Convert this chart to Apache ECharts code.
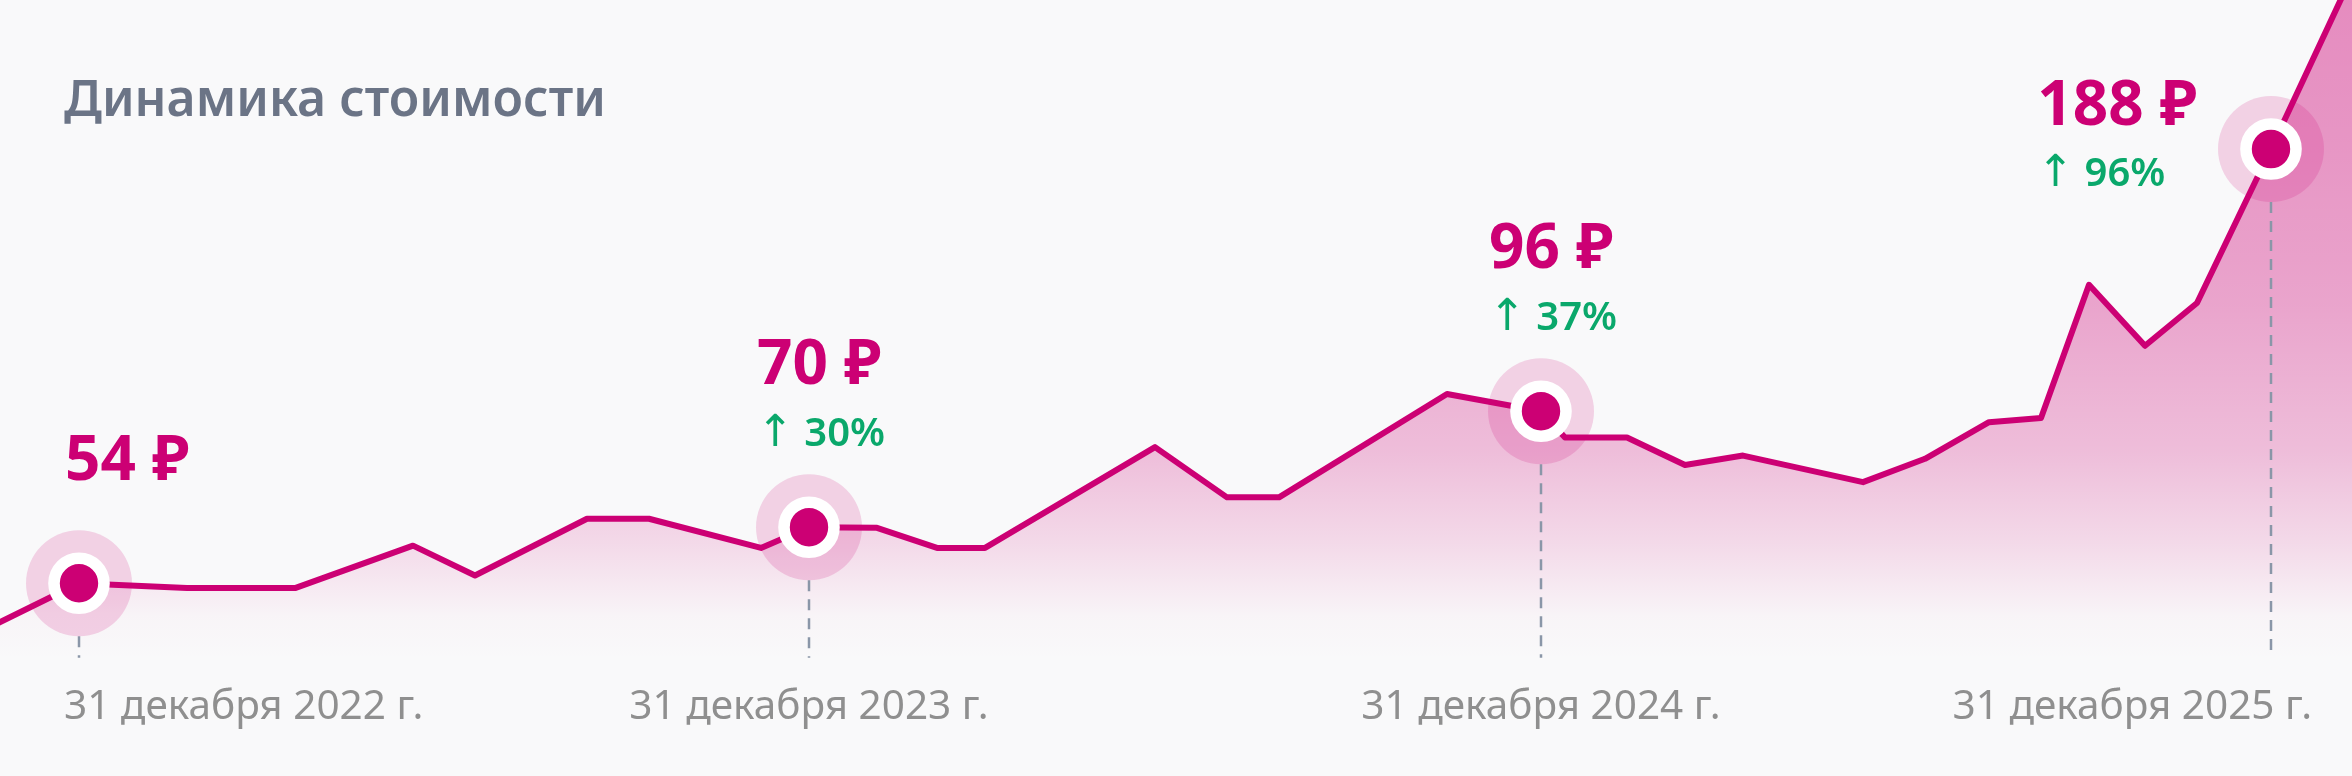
<!DOCTYPE html>
<html>
<head>
<meta charset="utf-8">
<script src="https://cdn.jsdelivr.net/npm/echarts@6/dist/echarts.min.js"></script>
<style>
  html, body { margin: 0; padding: 0; background: #f9f9fa; }
  #chart { width: 2352px; height: 776px; }
</style>
</head>
<body>
<div id="chart"></div>
<script>
// данные линии (значения в единицах шкалы графика)
const lineDates = [
  '2022-11-15', '2022-12-31', '2023-02-23', '2023-04-18', '2023-06-16', '2023-07-17',
  '2023-09-11', '2023-10-12', '2023-12-07', '2023-12-31', '2024-02-03', '2024-03-04',
  '2024-03-28', '2024-06-21', '2024-07-27', '2024-08-22', '2024-11-14', '2024-12-31',
  '2025-01-12', '2025-02-12', '2025-03-13', '2025-04-11', '2025-06-10', '2025-07-11',
  '2025-08-12', '2025-09-07', '2025-10-01', '2025-10-29', '2025-11-24', '2025-12-31',
  '2026-02-23'
];
const lineValues = [
  40.0, 54.0, 52.5, 52.5, 65.6, 56.4,
  73.9, 73.9, 64.9, 71.3, 71.1, 64.9,
  64.9, 96.0, 80.5, 80.5, 112.4, 107.1,
  99.0, 99.0, 90.5, 93.4, 85.2, 92.4,
  103.7, 105.0, 146.1, 127.3, 140.5, 188.0,
  259.4
];

// отмеченные точки
const markerDates = ['2022-12-31', '2023-12-31', '2024-12-31', '2025-12-31'];
const markerPrice = [54, 70, 96, 188];
const markerGrowth = [null, 30, 37, 96];
const tickLabels = ['31 декабря 2022 г.', '31 декабря 2023 г.', '31 декабря 2024 г.', '31 декабря 2025 г.'];

const MAGENTA = '#cc0074';
const GREEN = '#0aa86b';
const FONT = '"Noto Sans", "Open Sans", sans-serif';
const W = 2352;
const TICK_FONT = 40.5;

const ts = s => {
  const [y, m, d] = s.split('-').map(Number);
  return Date.UTC(y, m - 1, d);
};

const X_MIN = Date.UTC(2022, 10, 21, 12);
const X_MAX = Date.UTC(2026, 1, 9, 12);
const Y_MIN = 30;
const Y_MAX = 234;
const DASH_BASE = 31;
const HALO = 106;

const linePoints = lineDates.map((d, i) => [ts(d), lineValues[i]]);
const markerTs = markerDates.map(ts);
const markerValue = markerDates.map(d => lineValues[lineDates.indexOf(d)]);
const markerPoints = markerDates.map((d, i) => [ts(d), markerValue[i]]);

// подписи оси держим внутри холста
const measure = document.createElement('canvas').getContext('2d');
measure.font = '400 ' + TICK_FONT + 'px ' + FONT;
const tickWidth = tickLabels.map(t => measure.measureText(t).width);
const tickPx = markerTs.map(t => (t - X_MIN) / (X_MAX - X_MIN) * W);
const tickShift = tickPx.map((px, i) => {
  const half = tickWidth[i] / 2;
  if (px - half < 64) return 64 - (px - half);
  if (px + half > W - 40) return (W - 40) - (px + half);
  return 0;
});

const labelPlace = [
  { align: 'left', offset: [-14, -121] },
  { align: 'left', offset: [-52, -131] },
  { align: 'left', offset: [-52, -131] },
  { align: 'right', offset: [-74, -12] }
];

const chart = echarts.init(document.getElementById('chart'));

const option = {
  backgroundColor: '#f9f9fa',
  animation: false,
  title: {
    text: 'Динамика стоимости',
    left: 64,
    top: 74,
    padding: 0,
    textStyle: {
      fontFamily: FONT,
      fontSize: 50,
      fontWeight: 600,
      color: '#6b7486',
      lineHeight: 56
    }
  },
  grid: { left: 0, right: 0, top: 0, height: 661, outerBoundsMode: 'none', containLabel: false },
  xAxis: {
    type: 'value',
    min: X_MIN,
    max: X_MAX,
    axisLine: { show: false },
    axisTick: { show: false },
    splitLine: { show: false },
    axisLabel: {
      customValues: markerTs,
      margin: 26,
      fontFamily: FONT,
      fontSize: TICK_FONT,
      lineHeight: 40,
      color: '#8f8f8f',
      formatter: value => {
        const i = markerTs.indexOf(value);
        if (i < 0) return '';
        const s = tickShift[i];
        if (s > 0) return '{gl| }{t|' + tickLabels[i] + '}';
        if (s < 0) return '{t|' + tickLabels[i] + '}{gr| }';
        return '{t|' + tickLabels[i] + '}';
      },
      rich: {
        t: { fontFamily: FONT, fontSize: TICK_FONT, lineHeight: 40, color: '#8f8f8f' },
        gl: { width: Math.max(...tickShift) * 2, fontSize: TICK_FONT, lineHeight: 40 },
        gr: { width: -Math.min(...tickShift) * 2, fontSize: TICK_FONT, lineHeight: 40 }
      }
    }
  },
  yAxis: { type: 'value', min: Y_MIN, max: Y_MAX, show: false },
  series: [
    {
      // заливка под линией
      type: 'line',
      data: linePoints,
      showSymbol: false,
      silent: true,
      z: 1,
      lineStyle: { width: 0, opacity: 0 },
      areaStyle: {
        opacity: 1,
        color: new echarts.graphic.LinearGradient(0, 0, 0, 1, [
          { offset: 0, color: 'rgba(204,0,116,0.46)' },
          { offset: 0.3, color: 'rgba(204,0,116,0.40)' },
          { offset: 0.52, color: 'rgba(204,0,116,0.34)' },
          { offset: 0.72, color: 'rgba(204,0,116,0.24)' },
          { offset: 0.84, color: 'rgba(204,0,116,0.13)' },
          { offset: 0.94, color: 'rgba(204,0,116,0.02)' },
          { offset: 1, color: 'rgba(204,0,116,0)' }
        ])
      }
    },
    {
      // пунктир от точки вниз
      type: 'custom',
      data: markerPoints,
      silent: true,
      z: 2,
      renderItem: (params, api) => {
        const top = api.coord([api.value(0), api.value(1)]);
        const bottom = api.coord([api.value(0), DASH_BASE]);
        return {
          type: 'line',
          shape: { x1: top[0], y1: top[1] + HALO / 2, x2: bottom[0], y2: bottom[1] },
          style: { stroke: '#8a96a8', lineWidth: 2.5, lineDash: [11, 8] }
        };
      }
    },
    {
      // ореол
      type: 'scatter',
      data: markerPoints,
      symbolSize: HALO,
      silent: true,
      z: 3,
      itemStyle: { color: 'rgba(204,0,116,0.16)', opacity: 1 }
    },
    {
      type: 'line',
      data: linePoints,
      showSymbol: false,
      silent: true,
      z: 4,
      lineStyle: { color: MAGENTA, width: 6, cap: 'round', join: 'round' }
    },
    {
      type: 'scatter',
      data: markerPoints.map((p, i) => ({
        value: p,
        label: { align: labelPlace[i].align, offset: labelPlace[i].offset }
      })),
      symbolSize: 50,
      silent: true,
      z: 5,
      itemStyle: { color: MAGENTA, borderColor: '#ffffff', borderWidth: 11.6, opacity: 1 },
      label: {
        show: true,
        position: 'inside',
        verticalAlign: 'middle',
        formatter: params => {
          const i = params.dataIndex;
          let s = '{p|' + markerPrice[i] + ' ₽}';
          if (markerGrowth[i] != null) s += '\n{a|↑}{g| ' + markerGrowth[i] + '%}';
          return s;
        },
        rich: {
          p: { fontFamily: FONT, fontSize: 62, fontWeight: 700, color: MAGENTA, lineHeight: 76, align: 'left' },
          a: { fontFamily: '"DejaVu Sans", sans-serif', fontSize: 44, color: GREEN, lineHeight: 60, align: 'left' },
          g: { fontFamily: FONT, fontSize: 40, fontWeight: 600, color: GREEN, lineHeight: 60, align: 'left' }
        }
      }
    }
  ]
};

chart.setOption(option);
window.addEventListener('resize', () => chart.resize());
</script>
</body>
</html>
